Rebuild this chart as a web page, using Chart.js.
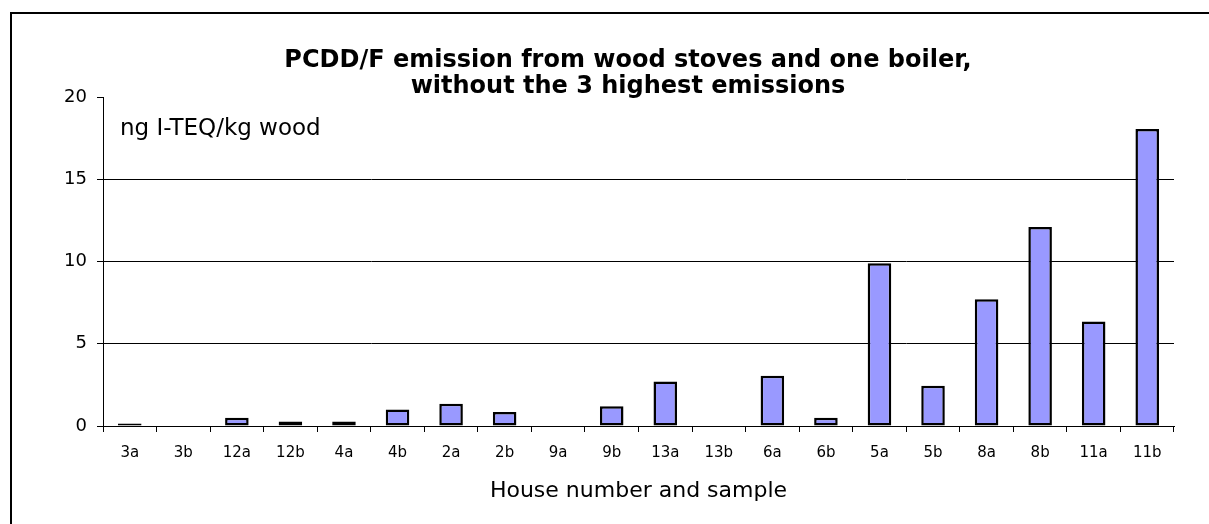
<!DOCTYPE html>
<html>
<head>
<meta charset="utf-8">
<title>PCDD/F emission</title>
<script src="https://cdn.jsdelivr.net/npm/chart.js@4.4.0/dist/chart.umd.min.js"></script>
<style>
  html, body { margin: 0; padding: 0; background: #fff; }
  #wrap { width: 1209px; height: 524px; }
</style>
</head>
<body>
<div id="wrap"><canvas id="chart" width="1209" height="524"></canvas></div>
<script>
// === Data ===
const samples = ["3a", "3b", "12a", "12b", "4a", "4b", "2a", "2b", "9a", "9b",
  "13a", "13b", "6a", "6b", "5a", "5b", "8a", "8b", "11a", "11b"];
const emissions = [0.15, 0, 0.5, 0.27, 0.27, 1.0, 1.35, 0.85, 0, 1.2,
  2.7, 0, 3.05, 0.5, 9.9, 2.45, 7.7, 12.1, 6.35, 18.05];
const yTicks = [0, 5, 10, 15, 20];
const titleLines = ["PCDD/F emission from wood stoves and one boiler,", "without the 3 highest emissions"];
const unitLabel = "ng I-TEQ/kg wood";
const xTitle = "House number and sample";

const FONT = "'DejaVu Sans', Verdana, sans-serif";

// === Frame, title and unit label ===
const decor = {
  id: "decor",
  beforeDraw(chart) {
    const c = chart.ctx;
    c.save();
    c.fillStyle = "#fff";
    c.fillRect(0, 0, chart.width, chart.height);
    c.strokeStyle = "#000";
    c.lineWidth = 2;
    c.beginPath();
    c.moveTo(11, 524);
    c.lineTo(11, 13);
    c.lineTo(1209, 13);
    c.stroke();
    c.restore();
  },
  afterDraw(chart) {
    const c = chart.ctx;
    c.save();
    c.fillStyle = "#000";
    c.textAlign = "center";
    c.textBaseline = "alphabetic";
    c.font = "bold 24px " + FONT;
    c.fillText(titleLines[0], 628, 67);
    c.fillText(titleLines[1], 628, 93);
    c.textAlign = "left";
    c.font = "23px " + FONT;
    c.fillText(unitLabel, 120, 135);
    c.restore();
  },
};

new Chart(document.getElementById("chart"), {
  type: "bar",
  data: {
    labels: samples,
    datasets: [
      {
        data: emissions,
        backgroundColor: "#9999ff",
        borderColor: "#000",
        borderWidth: 2.5,
        borderSkipped: false,
        barPercentage: 0.44,
        categoryPercentage: 1,
      },
    ],
  },
  options: {
    responsive: false,
    animation: false,
    layout: { padding: { left: 0, right: 35, top: 97, bottom: 0 } },
    plugins: {
      legend: { display: false },
      tooltip: { enabled: false },
      title: { display: false },
    },
    scales: {
      x: {
        afterFit: (s) => { s.height = 98; },
        grid: {
          offset: true,
          drawOnChartArea: false,
          color: "#000",
          tickLength: 6,
        },
        border: { color: "#000", width: 1 },
        ticks: { color: "#000", font: { family: FONT, size: 15 }, padding: 12, maxRotation: 0, autoSkip: false },
        title: {
          display: true,
          text: xTitle,
          color: "#000",
          font: { family: FONT, size: 22 },
          padding: { top: 0, bottom: 20 },
        },
      },
      y: {
        min: 0,
        max: 20,
        afterFit: (s) => { s.width = 103; },
        afterBuildTicks: (s) => { s.ticks = yTicks.map((v) => ({ value: v })); },
        grid: {
          color: (ctx) => (ctx.tick && ctx.tick.value === 20 ? "rgba(0,0,0,0)" : "#000"),
          tickColor: "#000",
          tickLength: 6,
          lineWidth: 1,
        },
        border: { color: "#000", width: 1 },
        ticks: { color: "#000", font: { family: FONT, size: 18 }, padding: 10 },
      },
    },
  },
  plugins: [decor],
});
</script>
</body>
</html>
